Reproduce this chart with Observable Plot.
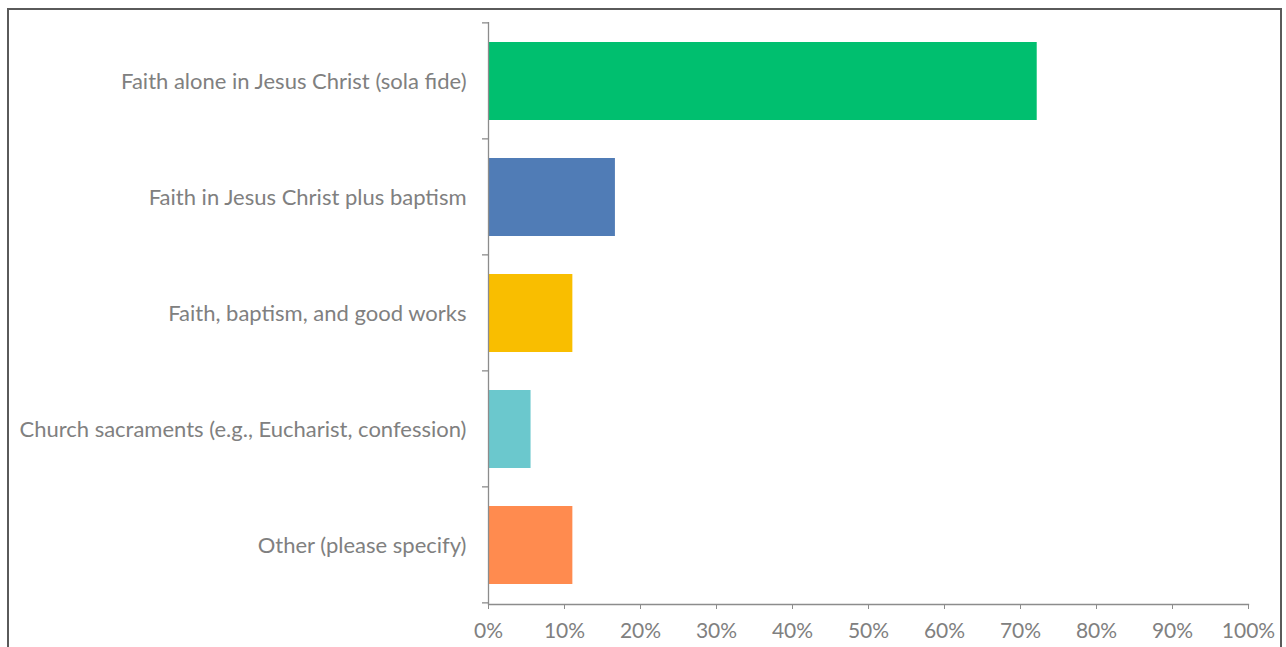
<!DOCTYPE html>
<html>
<head>
<meta charset="utf-8">
<script src="https://cdn.jsdelivr.net/npm/d3@7"></script>
<script src="https://cdn.jsdelivr.net/npm/@observablehq/plot@0.6"></script>
<style>
  html, body { margin: 0; padding: 0; background: #fff; }
  #wrap { position: relative; width: 1286px; height: 647px; overflow: hidden; }
  #border { position: absolute; left: 7px; top: 8px; width: 1275px; height: 700px;
            border: 2px solid #5a5a5a; box-sizing: border-box; pointer-events: none; }
  #chart { position: absolute; left: 0; top: 0; }
</style>
</head>
<body>
<div id="wrap">
  <div id="chart"></div>
  <div id="border"></div>
</div>
<script>
const categories = [
  "Faith alone in Jesus Christ (sola fide)",
  "Faith in Jesus Christ plus baptism",
  "Faith, baptism, and good works",
  "Church sacraments (e.g., Eucharist, confession)",
  "Other (please specify)"
];
const values = [72.2, 16.7, 11.1, 5.6, 11.1];
const colors = ["#00BF6F", "#507CB6", "#F9BE00", "#6BC8CD", "#FF8B4F"];
const xTicks = [0, 10, 20, 30, 40, 50, 60, 70, 80, 90, 100];

const data = categories.map((c, i) => ({category: c, value: values[i]}));

const axisGray = "#8c8c8c";
const textGray = "#808080";
const padInner = 0.33;

// category-boundary ticks on the y axis (Excel style: between categories)
function boundaryTicks(index, scales, values_, dims) {
  const y = scales.y, x = scales.x;
  const step = y(categories[1]) - y(categories[0]);
  const y0 = y(categories[0]) - padInner * step / 2;
  const x0 = x(0);
  const g = d3.create("svg:g").attr("stroke", axisGray).attr("stroke-width", 1.3);
  for (let k = 0; k <= categories.length; k++) {
    const yy = y0 + k * step;
    g.append("line").attr("x1", x0 - 6).attr("x2", x0).attr("y1", yy).attr("y2", yy);
  }
  return g.node();
}

const plot = Plot.plot({
  width: 1286,
  height: 647,
  marginLeft: 488,
  marginRight: 38,
  marginTop: 22,
  marginBottom: 43,
  style: {fontFamily: "Lato, 'Open Sans', sans-serif", background: "transparent"},
  x: {domain: [0, 100]},
  y: {domain: categories, paddingInner: padInner, paddingOuter: padInner / 2},
  color: {domain: categories, range: colors},
  marks: [
    Plot.barX(data, {x: "value", y: "category", fill: "category"}),
    Plot.ruleX([0], {stroke: axisGray, strokeWidth: 1.3}),
    Plot.frame({anchor: "bottom", stroke: axisGray, strokeWidth: 1.3}),
    boundaryTicks,
    Plot.axisY({tickSize: 0, tickPadding: 22, fontSize: 22, fill: textGray, label: null}),
    Plot.axisX({ticks: xTicks, tickFormat: d => d + "%", tickSize: 5, tickPadding: 14,
                fontSize: 21, fill: textGray, stroke: axisGray, label: null})
  ]
});
document.getElementById("chart").appendChild(plot);
</script>
</body>
</html>
